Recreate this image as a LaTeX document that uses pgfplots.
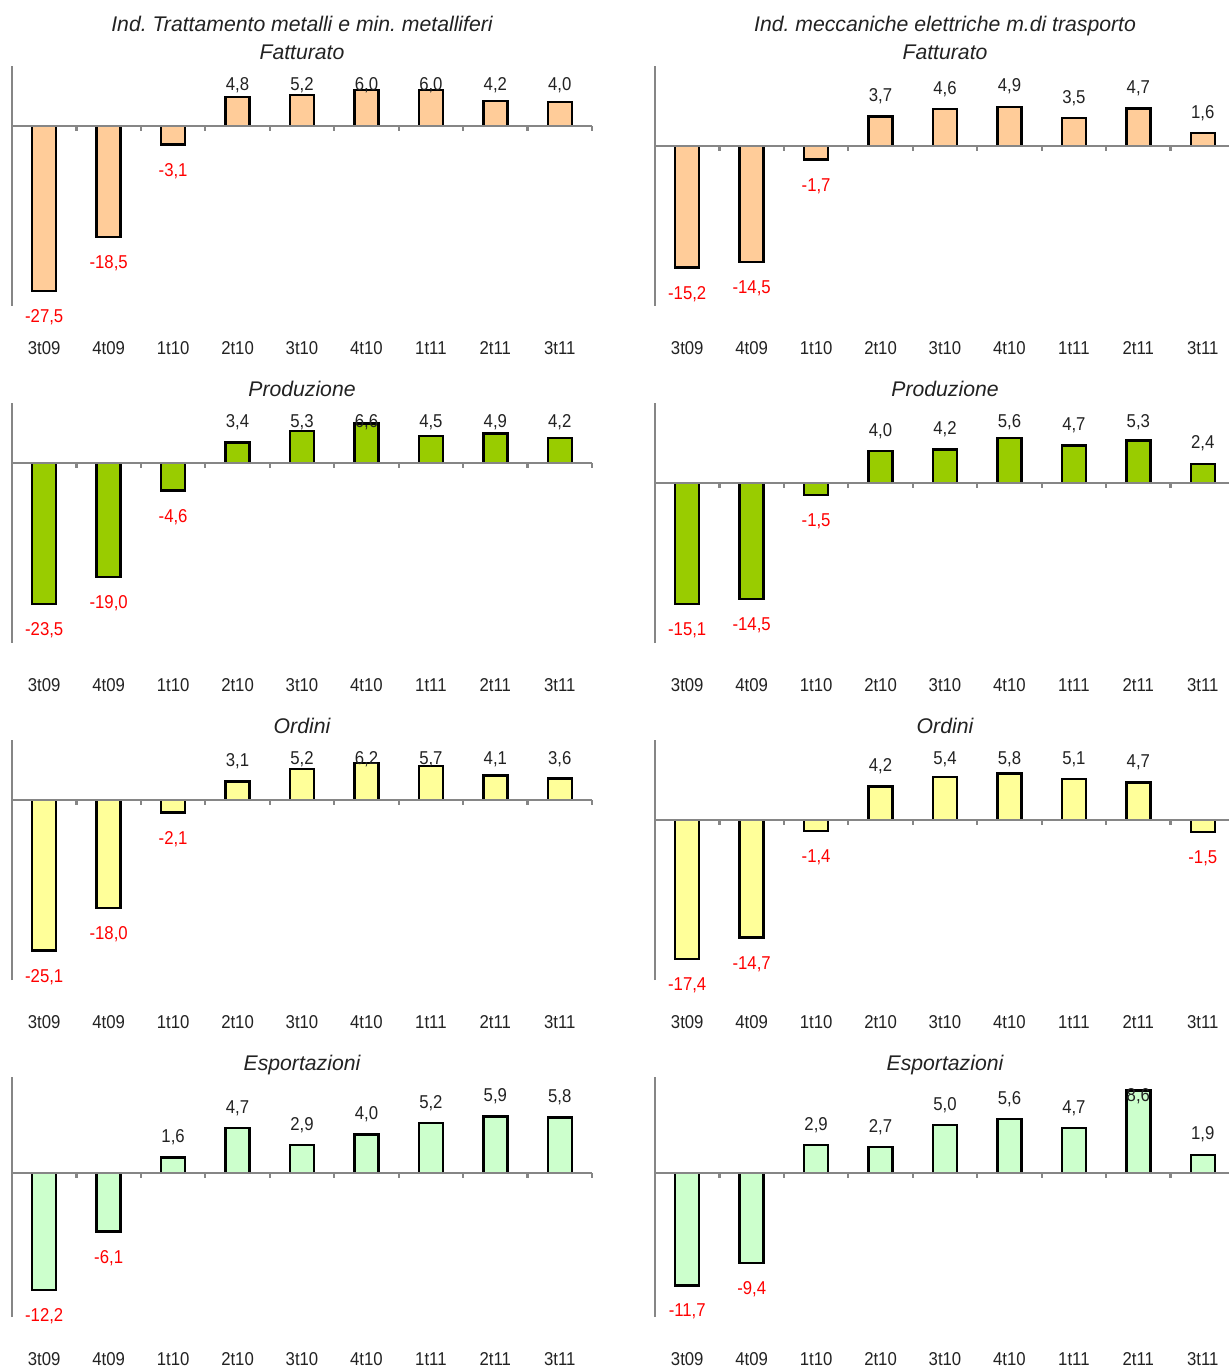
\documentclass[border=0pt]{standalone}
\usepackage{pgfplots}
\usepackage{pgfplotstable}
\pgfplotsset{compat=1.18}
\usepackage{fontspec}
\setmainfont{Liberation Sans}
\newfontfamily\narrowfont{Liberation Sans}[FakeStretch=0.9]
\frenchspacing
\definecolor{axgray}{HTML}{868686}
\definecolor{peach}{HTML}{FFCC99}
\definecolor{olivegr}{HTML}{99CC00}
\definecolor{lyellow}{HTML}{FFFF99}
\definecolor{mint}{HTML}{CCFFCC}
\definecolor{txt}{HTML}{222222}
\newcommand\tlfont{\fontsize{9.3pt}{11pt}\narrowfont}
\newcommand\ttlfont{\fontsize{10.6pt}{13pt}\selectfont\itshape}

\pgfplotstableread{
i LF LP LO LE RF RP RO RE
0 -27.5 -23.5 -25.1 -12.2 -15.2 -15.1 -17.4 -11.7
1 -18.5 -19.0 -18.0 -6.1 -14.5 -14.5 -14.7 -9.4
2 -3.1 -4.6 -2.1 1.6 -1.7 -1.5 -1.4 2.9
3 4.8 3.4 3.1 4.7 3.7 4.0 4.2 2.7
4 5.2 5.3 5.2 2.9 4.6 4.2 5.4 5.0
5 6.0 6.6 6.2 4.0 4.9 5.6 5.8 5.6
6 6.0 4.5 5.7 5.2 3.5 4.7 5.1 4.7
7 4.2 4.9 4.1 5.9 4.7 5.3 4.7 8.6
8 4.0 4.2 3.6 5.8 1.6 2.4 -1.5 1.9
}\data

\newdimen\labd
\newdimen\labs
\newcommand\barlabel{%
  \pgfmathfloattofixed{\pgfplotspointmeta}\let\myval\pgfmathresult
  \labd=\myval pt\relax
  \ifdim\labd<0pt
    \raisebox{-15.83pt}{\color{red}\pgfmathprintnumber{\pgfplotspointmeta}}%
  \else
    \labs=\ymx pt\relax
    \advance\labs by -\labd
    \labs=\pxu\labs
    \advance\labs by -8.75pt
    \ifdim\labs>10.75pt \labs=10.75pt\fi
    \advance\labs by -3.33pt
    \raisebox{\labs}{\pgfmathprintnumber{\pgfplotspointmeta}}%
  \fi}

\pgfplotsset{
 /pgf/number format/fixed,
 /pgf/number format/fixed zerofill,
 /pgf/number format/precision=1,
 /pgf/number format/use comma,
 /pgf/number format/assume math mode=true,
 panel/.style={
  scale only axis, width=290pt, height=120pt, anchor=north west,
  xmin=-0.5, xmax=8.5,
  ybar, bar width=12pt,
  axis lines*=left,
  x axis line style={draw=none},
  y axis line style={draw=axgray, line width=1.2pt},
  ytick=\empty,
  xtick={0,...,8},
  xticklabels={3t09,4t09,1t10,2t10,3t10,4t10,1t11,2t11,3t11},
  major tick length=0pt,
  xticklabel style={font=\tlfont, anchor=base, yshift=-24.3pt, text=txt, inner sep=0pt},
  clip=false,
  nodes near coords={\barlabel},
  every node near coord/.append style={font=\tlfont, text=txt, inner sep=0pt, anchor=base},
 },
 bars/.style={draw=black, line width=1.2pt, fill=#1},
}
\newcommand\zeroline{%
  \draw[axgray, line width=1.2pt] (axis cs:-0.5,0) -- (axis cs:8.5,0);
  \draw[axgray, line width=1.1pt] (axis cs:0.5,0) -- ++(0pt,-2.6pt);
  \draw[axgray, line width=1.1pt] (axis cs:1.5,0) -- ++(0pt,-2.6pt);
  \draw[axgray, line width=1.1pt] (axis cs:2.5,0) -- ++(0pt,-2.6pt);
  \draw[axgray, line width=1.1pt] (axis cs:3.5,0) -- ++(0pt,-2.6pt);
  \draw[axgray, line width=1.1pt] (axis cs:4.5,0) -- ++(0pt,-2.6pt);
  \draw[axgray, line width=1.1pt] (axis cs:5.5,0) -- ++(0pt,-2.6pt);
  \draw[axgray, line width=1.1pt] (axis cs:6.5,0) -- ++(0pt,-2.6pt);
  \draw[axgray, line width=1.1pt] (axis cs:7.5,0) -- ++(0pt,-2.6pt);
  \draw[axgray, line width=1.1pt] (axis cs:8.5,0) -- ++(0pt,-2.6pt);
}

\begin{document}
\begin{tikzpicture}
\path[use as bounding box] (0,0) rectangle (614.5pt,-684.5pt);
\clip (0,0) rectangle (614.5pt,-684.5pt);

% ---------------- Left column ----------------
\def\pxu{3}\def\ymx{10}
\begin{axis}[panel, at={(6pt,-33pt)}, ymin=-30, ymax=10]
\addplot[bars=peach] table[x=i,y=LF]{\data};
\zeroline
\node[font=\ttlfont, text=txt, anchor=base, yshift=17.2pt] at (rel axis cs:0.5,1) {Ind. Trattamento metalli e min. metalliferi};
\node[font=\ttlfont, text=txt, anchor=base, yshift=3.35pt] at (rel axis cs:0.5,1) {Fatturato};
\end{axis}

\begin{axis}[panel, at={(6pt,-201.5pt)}, ymin=-30, ymax=10]
\addplot[bars=olivegr] table[x=i,y=LP]{\data};
\zeroline
\node[font=\ttlfont, text=txt, anchor=base, yshift=3.35pt] at (rel axis cs:0.5,1) {Produzione};
\end{axis}

\begin{axis}[panel, at={(6pt,-370pt)}, ymin=-30, ymax=10]
\addplot[bars=lyellow] table[x=i,y=LO]{\data};
\zeroline
\node[font=\ttlfont, text=txt, anchor=base, yshift=3.35pt] at (rel axis cs:0.5,1) {Ordini};
\end{axis}

\def\pxu{4.8}\def\ymx{10}
\begin{axis}[panel, at={(6pt,-538.5pt)}, ymin=-15, ymax=10]
\addplot[bars=mint] table[x=i,y=LE]{\data};
\zeroline
\node[font=\ttlfont, text=txt, anchor=base, yshift=3.35pt] at (rel axis cs:0.5,1) {Esportazioni};
\end{axis}

% ---------------- Right column ----------------
\def\pxu{4}\def\ymx{10}
\begin{axis}[panel, at={(327.5pt,-33pt)}, ymin=-20, ymax=10]
\addplot[bars=peach] table[x=i,y=RF]{\data};
\zeroline
\node[font=\ttlfont, text=txt, anchor=base, yshift=17.2pt] at (rel axis cs:0.5,1) {Ind. meccaniche elettriche m.di trasporto};
\node[font=\ttlfont, text=txt, anchor=base, yshift=3.35pt] at (rel axis cs:0.5,1) {Fatturato};
\end{axis}

\begin{axis}[panel, at={(327.5pt,-201.5pt)}, ymin=-20, ymax=10]
\addplot[bars=olivegr] table[x=i,y=RP]{\data};
\zeroline
\node[font=\ttlfont, text=txt, anchor=base, yshift=3.35pt] at (rel axis cs:0.5,1) {Produzione};
\end{axis}

\begin{axis}[panel, at={(327.5pt,-370pt)}, ymin=-20, ymax=10]
\addplot[bars=lyellow] table[x=i,y=RO]{\data};
\zeroline
\node[font=\ttlfont, text=txt, anchor=base, yshift=3.35pt] at (rel axis cs:0.5,1) {Ordini};
\end{axis}

\def\pxu{4.8}\def\ymx{10}
\begin{axis}[panel, at={(327.5pt,-538.5pt)}, ymin=-15, ymax=10]
\addplot[bars=mint] table[x=i,y=RE]{\data};
\zeroline
\node[font=\ttlfont, text=txt, anchor=base, yshift=3.35pt] at (rel axis cs:0.5,1) {Esportazioni};
\end{axis}
\end{tikzpicture}
\end{document}
